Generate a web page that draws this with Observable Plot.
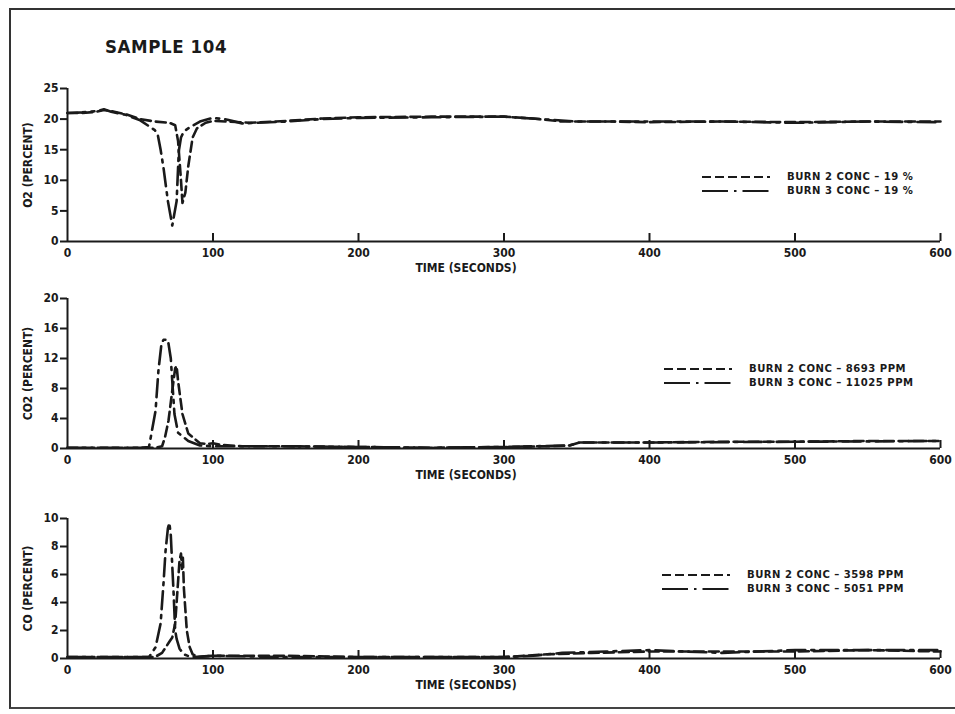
<!DOCTYPE html>
<html>
<head>
<meta charset="utf-8">
<script src="https://cdn.jsdelivr.net/npm/d3@7"></script>
<script src="https://cdn.jsdelivr.net/npm/@observablehq/plot@0.6"></script>
<style>
  html, body { margin: 0; padding: 0; background: #fff; overflow: hidden; }
  #page { position: relative; width: 955px; height: 714px; overflow: hidden;
          font-family: "DejaVu Sans Condensed", "Liberation Sans Narrow", sans-serif;
          font-weight: bold; color: #1a1a1a; }
  #border { position: absolute; left: 9px; top: 8px; right: -40px; height: 697px;
            border-top: 2px solid #333; border-left: 2px solid #333; border-bottom: 2px solid #444; }
  #title { position: absolute; left: 105px; top: 36px; font-size: 18.5px; letter-spacing: 0.6px; }
  .panel { position: absolute; left: 0; }
  .legend { position: absolute; font-size: 11.2px; letter-spacing: 0.5px; line-height: 14px; }
  .legend .row { display: flex; align-items: center; height: 14px; white-space: nowrap; }
  .legend svg { margin-right: 17px; }
</style>
</head>
<body>
<div id="page">
  <div id="border"></div>
  <div id="title">SAMPLE 104</div>
</div>
<script>
// Time axis (seconds)
const xTicks = [0, 100, 200, 300, 400, 500, 600];
const xLabel = "TIME (SECONDS)";

// O2 concentration, percent: [time, value]
const o2Burn2 = [[0,21],[10,21],[20,21.2],[25,21.5],[30,21.3],[40,20.8],[50,20],[60,19.6],[70,19.4],[74,19],[76,16.4],[78,10],[79,6.3],[81,8],[83,12.3],[86,17],[89,18.5],[95,19.4],[100,19.7],[110,19.6],[125,19.4],[150,19.7],[175,20.1],[200,20.3],[250,20.4],[300,20.4],[320,20.1],[340,19.6],[375,19.6],[400,19.5],[450,19.6],[500,19.5],[550,19.6],[600,19.6]];
const o2Burn3 = [[0,21],[10,21.1],[20,21.3],[25,21.6],[30,21.2],[40,20.7],[50,19.8],[55,19],[60,18.2],[62,17.5],[64,15],[66,12],[69,6.6],[72,2.6],[75,6.6],[76.5,14.8],[78,17],[80,18],[85,18.8],[91,19.6],[100,20.2],[110,19.9],[120,19.3],[150,19.6],[175,20],[200,20.2],[250,20.3],[300,20.4],[325,20],[350,19.6],[400,19.6],[450,19.6],[500,19.4],[550,19.6],[600,19.5]];
const o2Ticks = [0, 5, 10, 15, 20, 25];
const o2Legend = ["BURN 2 CONC \u2013 19 %", "BURN 3 CONC \u2013 19 %"];

// CO2 concentration, percent
const co2Burn2 = [[0,0.1],[25,0.1],[50,0.1],[60,0.1],[65,0.3],[67,1.5],[69.4,3.7],[72,7.7],[74,10.7],[75,11],[76,9],[79,4.6],[83,2],[91,0.7],[96,0.6],[100,0.7],[105,0.5],[120,0.3],[150,0.3],[200,0.2],[250,0.1],[300,0.2],[330,0.3],[345,0.4],[352,0.8],[400,0.8],[450,0.9],[500,0.9],[550,1.0],[600,1.0]];
const co2Burn3 = [[0,0.1],[25,0.1],[50,0.1],[56,0.2],[60.5,5],[62.5,10.4],[64.6,14],[66,14.5],[69,14.5],[71,12],[72,9],[73.5,4.6],[76,2.1],[83,1],[91,0.4],[100,0.3],[150,0.3],[200,0.2],[250,0.1],[300,0.2],[345,0.4],[352,0.8],[400,0.8],[500,0.9],[600,1.0]];
const co2Ticks = [0, 4, 8, 12, 16, 20];
const co2Legend = ["BURN 2 CONC \u2013 8693  PPM", "BURN 3 CONC \u2013 11025 PPM"];

// CO concentration, percent
const coBurn2 = [[0,0.1],[25,0.1],[50,0.1],[60,0.1],[65,0.4],[70,1.2],[72,1.5],[74,2.5],[76,5.5],[77,7],[78,7.5],[78.7,6.4],[79.3,7.2],[80,5],[81,3.5],[82,2],[84,0.8],[86,0.3],[90,0.1],[100,0.2],[150,0.2],[200,0.1],[250,0.1],[300,0.1],[330,0.3],[360,0.4],[400,0.5],[450,0.5],[500,0.5],[550,0.6],[600,0.5]];
const coBurn3 = [[0,0.1],[25,0.1],[50,0.1],[56,0.1],[60.5,0.8],[64,2.5],[66,5.4],[67.4,7.7],[69,9.3],[70,9.7],[71,8.8],[71.5,7.7],[73,4.5],[74,2],[75,1.4],[77,0.7],[80,0.3],[85,0.1],[100,0.2],[150,0.1],[200,0.1],[250,0.1],[300,0.1],[320,0.2],[340,0.4],[370,0.5],[400,0.6],[450,0.4],[500,0.6],[550,0.6],[600,0.6]];
const coTicks = [0, 2, 4, 6, 8, 10];
const coLegend = ["BURN 2 CONC \u2013 3598 PPM", "BURN 3 CONC \u2013 5051  PPM"];

const burn2Dash = "10,5";
const burn3Dash = "18,6,3,6";
const ink = "#1a1a1a";

const panels = [
  {burn2: o2Burn2, burn3: o2Burn3, yTicks: o2Ticks, yLabel: "O2 (PERCENT)", legend: o2Legend,
   top: 60, height: 221, marginTop: 28, marginBottom: 40, legendLeft: 702, legendTop: 170},
  {burn2: co2Burn2, burn3: co2Burn3, yTicks: co2Ticks, yLabel: "CO2 (PERCENT)", legend: co2Legend,
   top: 285, height: 203, marginTop: 13, marginBottom: 40, legendLeft: 664, legendTop: 362},
  {burn2: coBurn2, burn3: coBurn3, yTicks: coTicks, yLabel: "CO (PERCENT)", legend: coLegend,
   top: 495, height: 208, marginTop: 23, marginBottom: 45, legendLeft: 662, legendTop: 568}
];

const page = document.getElementById("page");

for (const p of panels) {
  const innerH = p.height - p.marginTop - p.marginBottom;
  const chart = Plot.plot({
    width: 955,
    height: p.height,
    marginLeft: 67,
    marginRight: 15,
    marginTop: p.marginTop,
    marginBottom: p.marginBottom,
    x: {domain: [0, 600]},
    y: {domain: [0, d3.max(p.yTicks)]},
    style: {fontFamily: "'DejaVu Sans Condensed', 'Liberation Sans Narrow', sans-serif",
            fontSize: "12px", fontWeight: "bold", background: "transparent", color: ink},
    marks: [
      Plot.axisY({ticks: p.yTicks, tickSize: 7, tickPadding: 2, strokeWidth: 2, label: null}),
      Plot.axisX({ticks: xTicks, tickSize: 0, tickPadding: 7, label: null}),
      Plot.ruleX(xTicks.slice(1), {insetTop: innerH - 8, stroke: ink, strokeWidth: 2}),
      Plot.ruleX([0], {stroke: ink, strokeWidth: 2}),
      Plot.ruleY([0], {stroke: ink, strokeWidth: 2}),
      Plot.line(p.burn2, {x: d => d[0], y: d => d[1], stroke: ink, strokeWidth: 2.6, strokeDasharray: burn2Dash}),
      Plot.line(p.burn3, {x: d => d[0], y: d => d[1], stroke: ink, strokeWidth: 2.6, strokeDasharray: burn3Dash}),
      Plot.text([p.yLabel], {text: d => d, frameAnchor: "left", textAnchor: "middle", rotate: -90, dx: -39, fill: ink}),
      Plot.text([xLabel], {text: d => d, frameAnchor: "bottom", textAnchor: "middle", dx: -38, dy: 30, fill: ink})
    ]
  });
  const holder = document.createElement("div");
  holder.className = "panel";
  holder.style.top = p.top + "px";
  holder.appendChild(chart);
  page.appendChild(holder);

  // legend: line-style key beside each label
  const legend = document.createElement("div");
  legend.className = "legend";
  legend.style.left = p.legendLeft + "px";
  legend.style.top = p.legendTop + "px";
  [burn2Dash, burn3Dash].forEach((dash, i) => {
    const row = document.createElement("div");
    row.className = "row";
    row.innerHTML = `<svg width="68" height="10"><line x1="0" y1="5" x2="68" y2="5" stroke="${ink}" stroke-width="2" stroke-dasharray="${i === 0 ? "9,4" : "26,6,2.5,6"}"/></svg><span>${p.legend[i]}</span>`;
    legend.appendChild(row);
  });
  page.appendChild(legend);
}
</script>
</body>
</html>
